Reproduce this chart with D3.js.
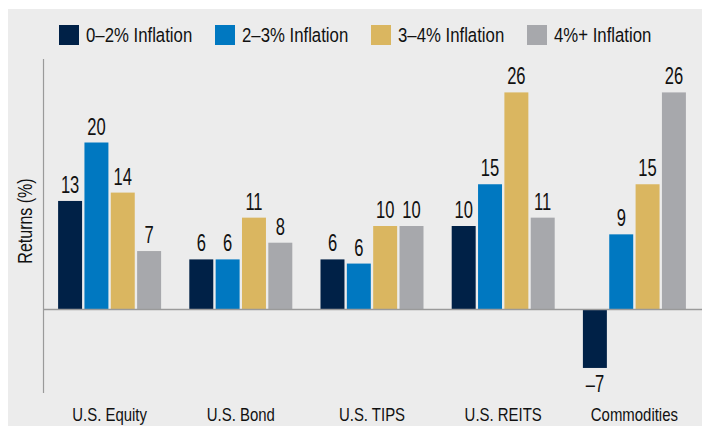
<!DOCTYPE html>
<html>
<head>
<meta charset="utf-8">
<script src="https://cdn.jsdelivr.net/npm/d3@7"></script>
<style>
    body { margin: 0; background: #fff; }
    svg text { font-family: "Liberation Sans", Arial, sans-serif; fill: #111; }
</style>
</head>
<body>
<div id="chart"></div>
<script>
// asset classes along the x axis
const categories = ["U.S. Equity", "U.S. Bond", "U.S. TIPS", "U.S. REITS", "Commodities"];
// inflation regimes (legend)
const seriesNames = ["0\u20132% Inflation", "2\u20133% Inflation", "3\u20134% Inflation", "4%+ Inflation"];
const seriesColors = ["#002147", "#0078c1", "#dab660", "#a7a8ac"];
// returns (%) per regime, one value per category (labels show rounded values)
const infl0to2 = [13, 6, 6, 10, -7];
const infl2to3 = [20, 6, 5.5, 15, 9];
const infl3to4 = [14, 11, 10, 26, 15];
const infl4plus = [7, 8, 10, 11, 26];
const yDomain = [-10, 30];

// the original uses a condensed face, so squeeze the text horizontally
function squeeze(x, y, sx, rot) {
    return "translate(" + x + "," + y + ")" + (rot ? " rotate(" + rot + ")" : "") + " scale(" + sx + ",1)";
}

class GroupedBars {
    constructor(_parentElement) {
        this.parentElement = _parentElement;
        this.initVis();
    }

    initVis() {
        let vis = this;
        vis.width = 702;
        vis.height = 426;

        vis.svg = d3.select("#" + vis.parentElement).append("svg")
            .attr("width", vis.width)
            .attr("height", vis.height);

        // light panel behind everything
        vis.svg.append("rect")
            .attr("x", 8).attr("y", 9)
            .attr("width", vis.width - 8).attr("height", vis.height - 9)
            .attr("fill", "#ececec");

        vis.x0 = d3.scaleBand()
            .domain(categories)
            .range([44, 700])
            .paddingInner(0.215)
            .paddingOuter(0.1075);

        vis.x1 = d3.scaleBand()
            .domain(seriesNames)
            .range([0, vis.x0.bandwidth()])
            .paddingInner(0.09);

        vis.y = d3.scaleLinear()
            .domain(yDomain)
            .range([393, 59]);

        vis.color = d3.scaleOrdinal()
            .domain(seriesNames)
            .range(seriesColors);

        vis.wrangleData();
    }

    wrangleData() {
        let vis = this;
        let cols = [infl0to2, infl2to3, infl3to4, infl4plus];
        vis.groups = categories.map((c, i) => ({
            name: c,
            values: seriesNames.map((s, j) => ({ key: s, value: cols[j][i] }))
        }));
        vis.updateVis();
    }

    updateVis() {
        let vis = this;
        let y0 = vis.y(0);

        // legend
        let legend = vis.svg.append("g").attr("class", "legend")
            .selectAll("g")
            .data(seriesNames)
            .enter().append("g")
            .attr("transform", (d, i) => "translate(" + (59 + i * 156) + ",25)");
        legend.append("rect")
            .attr("width", 20).attr("height", 20)
            .attr("fill", d => vis.color(d));
        legend.append("text")
            .attr("transform", squeeze(27, 17, 0.86))
            .style("font-size", "19.5px")
            .text(d => d);

        // y axis line (no ticks)
        vis.svg.append("line")
            .attr("x1", 43.5).attr("x2", 43.5)
            .attr("y1", vis.y(yDomain[1])).attr("y2", vis.y(yDomain[0]))
            .attr("stroke", "#9a9a9a").attr("stroke-width", 1.2);

        vis.svg.append("text")
            .attr("transform", squeeze(32, 221, 0.8, -90))
            .attr("text-anchor", "middle")
            .style("font-size", "20px")
            .text("Returns (%)");

        let group = vis.svg.selectAll(".group")
            .data(vis.groups)
            .enter().append("g")
            .attr("class", "group")
            .attr("transform", d => "translate(" + vis.x0(d.name) + ",0)");

        let bar = group.selectAll(".bar")
            .data(d => d.values)
            .enter();

        bar.append("rect")
            .attr("class", "bar")
            .attr("x", d => vis.x1(d.key))
            .attr("width", vis.x1.bandwidth())
            .attr("y", d => Math.min(vis.y(d.value), y0))
            .attr("height", d => Math.abs(vis.y(d.value) - y0))
            .attr("fill", d => vis.color(d.key));

        bar.append("text")
            .attr("class", "label")
            .attr("transform", d => squeeze(
                vis.x1(d.key) + vis.x1.bandwidth() / 2,
                d.value >= 0 ? vis.y(d.value) - 8 : vis.y(d.value) + 24,
                0.72))
            .attr("text-anchor", "middle")
            .style("font-size", "23px")
            .text(d => d.value < 0 ? "\u2013" + Math.round(Math.abs(d.value)) : Math.round(d.value));

        // zero line
        vis.svg.append("line")
            .attr("x1", 44).attr("x2", 702)
            .attr("y1", y0).attr("y2", y0)
            .attr("stroke", "#9a9a9a").attr("stroke-width", 1.5);

        // category labels
        vis.svg.selectAll(".cat")
            .data(categories)
            .enter().append("text")
            .attr("class", "cat")
            .attr("transform", d => squeeze(vis.x0(d) + vis.x0.bandwidth() / 2, 421, 0.83))
            .attr("text-anchor", "middle")
            .style("font-size", "18px")
            .text(d => d);
    }
}

new GroupedBars("chart");
</script>
</body>
</html>
